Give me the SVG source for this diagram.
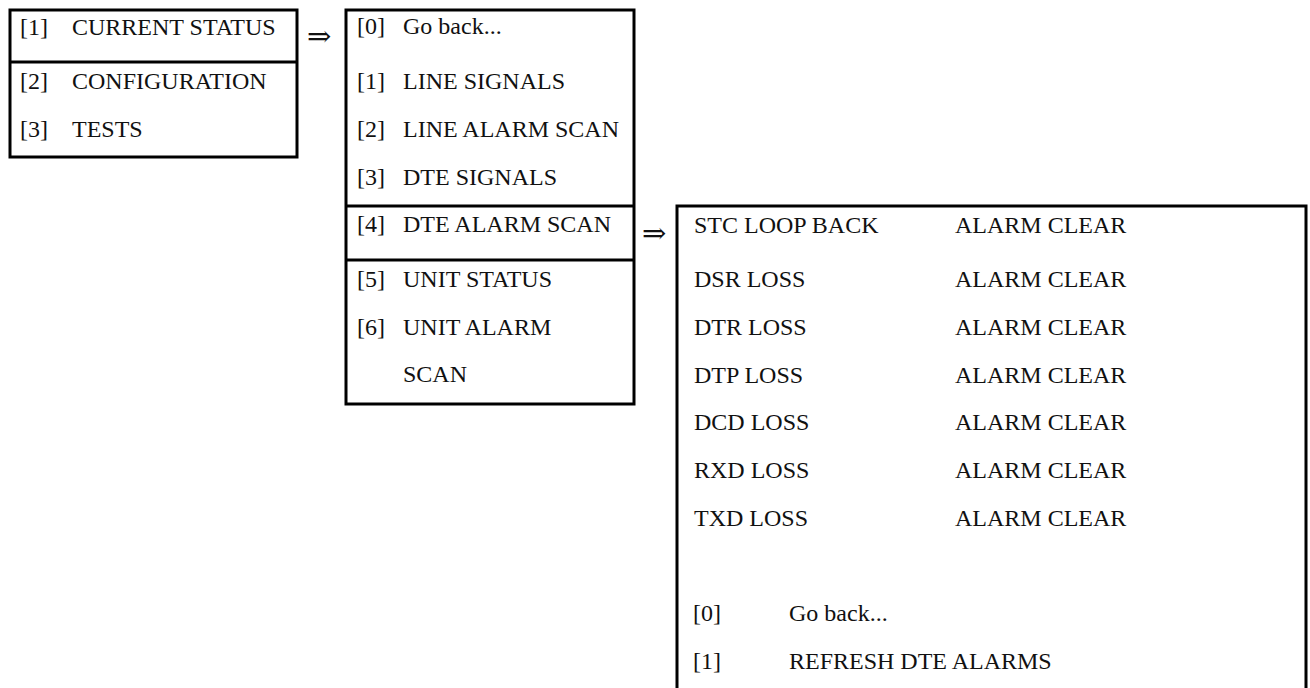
<svg xmlns="http://www.w3.org/2000/svg" width="1310" height="688" viewBox="0 0 1310 688">
  <style>
    .frame { fill: none; stroke: #000; stroke-width: 3; }
    .t { font-family: 'Liberation Serif', 'Times New Roman', Times, serif; font-size: 24px; fill: #111; }
    .arrow { font-family: 'DejaVu Serif', 'DejaVu Sans', serif; font-size: 29px; fill: #111; }
  </style>
  <rect width="1310" height="688" fill="#fff"/>

  <!-- main menu -->
  <g id="main-menu">
    <rect class="frame" x="10" y="10" width="287" height="147"/>
    <line class="frame" x1="10" y1="62" x2="297" y2="62"/>
    <text class="t" x="20" y="35">[1]</text><text class="t" x="72" y="35">CURRENT STATUS</text>
    <text class="t" x="20" y="89">[2]</text><text class="t" x="72" y="89">CONFIGURATION</text>
    <text class="t" x="20" y="137">[3]</text><text class="t" x="72" y="137">TESTS</text>
  </g>

  <!-- current status submenu -->
  <g id="status-menu">
    <rect class="frame" x="346" y="10" width="288" height="394"/>
    <line class="frame" x1="346" y1="206" x2="634" y2="206"/>
    <line class="frame" x1="346" y1="260" x2="634" y2="260"/>
    <text class="t" x="357" y="34">[0]</text><text class="t" x="403" y="34">Go back...</text>
    <text class="t" x="357" y="89">[1]</text><text class="t" x="403" y="89">LINE SIGNALS</text>
    <text class="t" x="357" y="137">[2]</text><text class="t" x="403" y="137">LINE ALARM SCAN</text>
    <text class="t" x="357" y="185">[3]</text><text class="t" x="403" y="185">DTE SIGNALS</text>
    <text class="t" x="357" y="232">[4]</text><text class="t" x="403" y="232">DTE ALARM SCAN</text>
    <text class="t" x="357" y="287">[5]</text><text class="t" x="403" y="287">UNIT STATUS</text>
    <text class="t" x="357" y="335">[6]</text><text class="t" x="403" y="335">UNIT ALARM</text>
    <text class="t" x="403" y="382">SCAN</text>
  </g>

  <!-- DTE alarm scan screen (runs past the bottom edge) -->
  <g id="dte-alarm-screen">
    <polyline class="frame" points="677,700 677,206 1306,206 1306,700"/>
    <text class="t" x="694" y="233">STC LOOP BACK</text><text class="t" x="955" y="233">ALARM CLEAR</text>
    <text class="t" x="694" y="287">DSR LOSS</text><text class="t" x="955" y="287">ALARM CLEAR</text>
    <text class="t" x="694" y="335">DTR LOSS</text><text class="t" x="955" y="335">ALARM CLEAR</text>
    <text class="t" x="694" y="383">DTP LOSS</text><text class="t" x="955" y="383">ALARM CLEAR</text>
    <text class="t" x="694" y="430">DCD LOSS</text><text class="t" x="955" y="430">ALARM CLEAR</text>
    <text class="t" x="694" y="478">RXD LOSS</text><text class="t" x="955" y="478">ALARM CLEAR</text>
    <text class="t" x="694" y="526">TXD LOSS</text><text class="t" x="955" y="526">ALARM CLEAR</text>
    <text class="t" x="693" y="621">[0]</text><text class="t" x="789" y="621">Go back...</text>
    <text class="t" x="693" y="669">[1]</text><text class="t" x="789" y="669">REFRESH DTE ALARMS</text>
  </g>

  <!-- navigation arrows -->
  <g id="connectors">
    <text class="arrow" x="307" y="46">⇒</text>
    <text class="arrow" x="642" y="243">⇒</text>
  </g>
</svg>
